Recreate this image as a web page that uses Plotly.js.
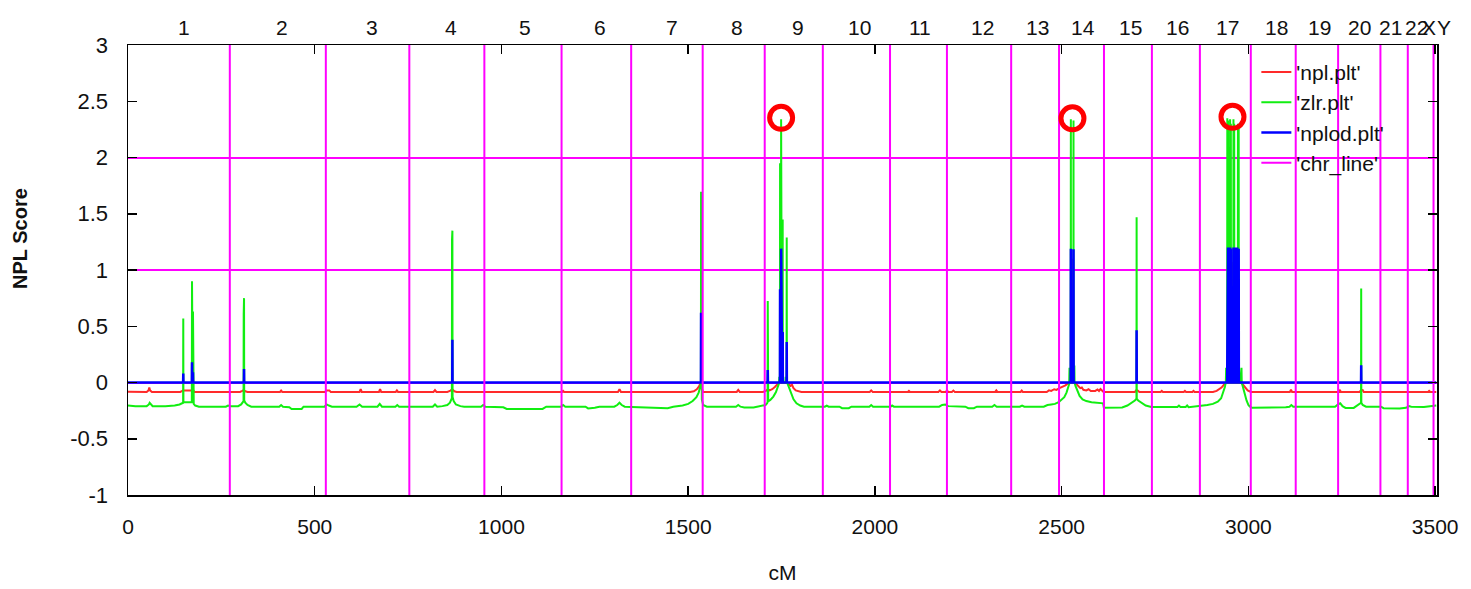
<!DOCTYPE html>
<html>
<head>
<meta charset="utf-8">
<script src="https://cdn.plot.ly/plotly-3.0.1.min.js"></script>
<style>html,body{margin:0;padding:0;background:#fff;}#chart{width:1471px;height:589px;}</style>
</head>
<body>
<div id="chart"></div>
<script>
// ---------- DATA ----------
// npl.plt (red): [cM, NPL]
const nplPts = [[0,-0.082],[50,-0.084],[55,-0.07],[57,-0.045],[59,-0.07],[64,-0.084],[140,-0.084],[146,-0.075],[148,-0.07],[170,-0.07],[175,-0.07],[178,-0.084],[300,-0.084],[306,-0.075],[310,-0.068],[314,-0.078],[320,-0.084],[407,-0.084],[410,-0.072],[413,-0.084],[528,-0.084],[531,-0.07],[535,-0.068],[539,-0.07],[543,-0.084],[620,-0.084],[623,-0.058],[626,-0.084],[672,-0.084],[675,-0.058],[678,-0.084],[717,-0.084],[720,-0.07],[723,-0.084],[818,-0.084],[822,-0.068],[826,-0.084],[855,-0.084],[862,-0.075],[868,-0.06],[874,-0.078],[880,-0.084],[1162,-0.084],[1165,-0.074],[1168,-0.084],[1312,-0.084],[1316,-0.06],[1320,-0.084],[1505,-0.084],[1515,-0.078],[1523,-0.06],[1529,-0.035],[1533,-0.005],[1535,-0.005],[1537,-0.06],[1540,-0.084],[1630,-0.084],[1634,-0.066],[1638,-0.084],[1700,-0.084],[1708,-0.075],[1713,-0.06],[1718,-0.07],[1725,-0.06],[1732,-0.04],[1738,-0.02],[1742,-0.005],[1748.4,0],[1748.8,0.82],[1749.2,0],[1766,-0.005],[1770,-0.015],[1774,-0.03],[1778,-0.02],[1782,-0.05],[1788,-0.07],[1796,-0.08],[1803,-0.084],[1986,-0.084],[1990,-0.07],[1994,-0.084],[2088,-0.084],[2091,-0.075],[2094,-0.084],[2170,-0.084],[2174,-0.07],[2178,-0.084],[2190,-0.084],[2193,-0.07],[2196,-0.084],[2206,-0.084],[2210,-0.072],[2214,-0.084],[2322,-0.084],[2325,-0.07],[2328,-0.084],[2390,-0.084],[2393,-0.072],[2396,-0.084],[2460,-0.084],[2466,-0.07],[2472,-0.075],[2480,-0.06],[2486,-0.066],[2494,-0.05],[2502,-0.04],[2510,-0.025],[2516,-0.01],[2520,0],[2528,0],[2528.4,1.1],[2528.8,0],[2538,-0.01],[2544,-0.03],[2550,-0.05],[2554,-0.045],[2558,-0.065],[2566,-0.07],[2572,-0.06],[2578,-0.075],[2590,-0.075],[2596,-0.062],[2600,-0.075],[2604,-0.058],[2608,-0.075],[2612,-0.084],[2696,-0.084],[2700,-0.068],[2704,-0.072],[2708,-0.084],[2765,-0.084],[2768,-0.074],[2771,-0.084],[2827,-0.084],[2830,-0.074],[2833,-0.084],[2850,-0.084],[2853,-0.074],[2856,-0.084],[2905,-0.084],[2915,-0.075],[2922,-0.06],[2928,-0.045],[2933,-0.025],[2937,-0.005],[2948.9,0],[2949.3,0.98],[2949.7,0],[2957.1,0],[2957.5,1.07],[2957.9,0],[2982,-0.005],[2986,-0.02],[2992,-0.05],[2998,-0.07],[3004,-0.08],[3008,-0.084],[3111,-0.084],[3114,-0.065],[3117,-0.084],[3242,-0.084],[3245,-0.07],[3248,-0.084],[3298,-0.084],[3301,-0.07],[3306,-0.068],[3309,-0.084],[3481,-0.084],[3484,-0.074],[3487,-0.084],[3503,-0.084]];

// zlr.plt (green): [cM, score]
const zlrPts = [[0,-0.205],[20,-0.21],[50,-0.21],[56,-0.195],[58,-0.18],[60,-0.19],[66,-0.21],[100,-0.21],[125,-0.205],[138,-0.195],[145,-0.185],[147.6,-0.18],[148,0.57],[148.4,-0.175],[160,-0.175],[170.9,-0.175],[171.4,0.90],[171.9,-0.17],[173.5,-0.17],[174,0.63],[174.5,-0.17],[176,-0.19],[180,-0.205],[190,-0.215],[262,-0.215],[268,-0.205],[274,-0.21],[295,-0.21],[303,-0.195],[307,-0.175],[309.4,-0.165],[309.8,0.61],[310.2,-0.16],[310.7,0.75],[311.2,-0.16],[314,-0.18],[320,-0.2],[330,-0.215],[405,-0.215],[410,-0.2],[415,-0.215],[432,-0.22],[438,-0.235],[465,-0.235],[470,-0.215],[526,-0.215],[532,-0.195],[538,-0.205],[546,-0.215],[612,-0.215],[620,-0.195],[627,-0.215],[668,-0.215],[674,-0.19],[680,-0.215],[716,-0.215],[721,-0.2],[726,-0.215],[816,-0.215],[822,-0.195],[828,-0.215],[842,-0.21],[855,-0.2],[862,-0.18],[866,-0.155],[867.2,-0.14],[867.6,1.27],[868.0,-0.13],[868.6,1.35],[869.1,-0.13],[872,-0.165],[878,-0.195],[890,-0.21],[900,-0.215],[945,-0.215],[951,-0.2],[957,-0.215],[1005,-0.22],[1014,-0.235],[1110,-0.235],[1120,-0.215],[1159,-0.215],[1165,-0.2],[1171,-0.215],[1225,-0.215],[1232,-0.23],[1250,-0.225],[1262,-0.215],[1302,-0.215],[1310,-0.2],[1316,-0.18],[1322,-0.2],[1330,-0.215],[1360,-0.22],[1420,-0.228],[1445,-0.228],[1460,-0.215],[1485,-0.205],[1500,-0.19],[1512,-0.165],[1522,-0.13],[1528,-0.09],[1532,-0.04],[1534,-0.01],[1534.5,1.695],[1535,-0.01],[1536.5,-0.15],[1540,-0.2],[1550,-0.215],[1628,-0.215],[1634,-0.2],[1640,-0.215],[1650,-0.222],[1675,-0.222],[1685,-0.215],[1700,-0.21],[1707,-0.2],[1711,-0.185],[1712.6,-0.175],[1713,0.725],[1713.4,-0.17],[1714.2,-0.17],[1714.6,0.316],[1715,-0.165],[1720,-0.155],[1728,-0.125],[1735,-0.085],[1740,-0.04],[1743,-0.01],[1744,0.05],[1744.5,0],[1745.6,0],[1746,1.95],[1746.4,0],[1748.4,0],[1748.8,2.34],[1749.2,0],[1750.1,0],[1750.5,1.48],[1750.9,0],[1752.6,0],[1753,1.45],[1753.4,0],[1760,0],[1761,0.05],[1762,0],[1763.4,0],[1763.8,1.29],[1764.2,0],[1766,-0.01],[1770,-0.05],[1775,-0.1],[1782,-0.15],[1790,-0.185],[1800,-0.205],[1810,-0.215],[1866,-0.215],[1871,-0.205],[1876,-0.215],[1905,-0.215],[1912,-0.228],[1930,-0.228],[1937,-0.215],[1985,-0.215],[1990,-0.2],[1995,-0.215],[2042,-0.215],[2046,-0.205],[2051,-0.215],[2172,-0.215],[2180,-0.2],[2188,-0.195],[2196,-0.21],[2242,-0.215],[2250,-0.228],[2265,-0.228],[2273,-0.215],[2314,-0.215],[2320,-0.2],[2326,-0.215],[2388,-0.215],[2394,-0.205],[2400,-0.215],[2452,-0.215],[2462,-0.2],[2472,-0.195],[2482,-0.19],[2492,-0.175],[2500,-0.155],[2507,-0.13],[2513,-0.09],[2517,-0.05],[2520,-0.015],[2521,0.13],[2521.6,0],[2524.2,0],[2524.6,2.34],[2525,0],[2531.3,0],[2531.7,2.33],[2532.1,0],[2533.5,0],[2534,0.15],[2534.6,0],[2537,-0.03],[2542,-0.08],[2548,-0.12],[2556,-0.15],[2566,-0.165],[2580,-0.175],[2595,-0.18],[2611,-0.185],[2613,-0.225],[2630,-0.225],[2662,-0.222],[2676,-0.205],[2688,-0.18],[2696,-0.16],[2700.3,-0.145],[2700.7,1.47],[2701.1,-0.145],[2705,-0.16],[2713,-0.18],[2725,-0.205],[2740,-0.218],[2810,-0.218],[2814,-0.205],[2818,-0.218],[2832,-0.218],[2836,-0.205],[2840,-0.22],[2855,-0.215],[2872,-0.21],[2890,-0.2],[2905,-0.19],[2918,-0.17],[2927,-0.14],[2933,-0.09],[2937,-0.04],[2939.5,0],[2940.5,0.13],[2941.2,0],[2943.1,0],[2943.5,2.35],[2943.9,0],[2945.1,0],[2945.5,2.33],[2945.9,0],[2950.6,0],[2951,2.34],[2951.4,0],[2952.6,0],[2953,2.3],[2953.4,0],[2959.6,0],[2960,2.34],[2960.4,0],[2961.6,0],[2962,2.3],[2962.4,0],[2971.6,0],[2972,2.3],[2972.4,0],[2973.6,0],[2974,2.26],[2974.4,0],[2978,0],[2981.5,0.13],[2982.2,0],[2985,-0.04],[2990,-0.11],[2995,-0.16],[3000,-0.2],[3004,-0.215],[3010,-0.225],[3060,-0.225],[3100,-0.22],[3110,-0.215],[3115,-0.2],[3120,-0.215],[3180,-0.215],[3232,-0.215],[3240,-0.195],[3246,-0.185],[3252,-0.21],[3260,-0.226],[3282,-0.226],[3290,-0.21],[3297,-0.19],[3301.6,-0.18],[3302,0.835],[3302.4,-0.18],[3306,-0.2],[3315,-0.215],[3355,-0.215],[3362,-0.228],[3405,-0.23],[3422,-0.225],[3430,-0.21],[3436,-0.215],[3470,-0.218],[3495,-0.21],[3503,-0.205]];

// nplod.plt (blue): [cM, score]
const nplodPts = [[0,0],[147.6,0],[148,0.08],[148.4,0],[171,0],[171.4,0.18],[171.8,0],[173.6,0],[174,0.09],[174.4,0],[310.3,0],[310.7,0.12],[311.1,0],[868.2,0],[868.6,0.38],[869,0],[1534.1,0],[1534.5,0.62],[1534.9,0],[1712.6,0],[1713,0.11],[1713.4,0],[1745.6,0],[1746,0.83],[1746.4,0],[1748.4,0],[1748.8,1.19],[1749.2,0],[1750.1,0],[1750.5,0.48],[1750.9,0],[1752.6,0],[1753,0.45],[1753.4,0],[1763.4,0],[1763.8,0.36],[1764.2,0],[2524.2,0],[2524.6,1.19],[2525,0],[2531.3,0],[2531.7,1.185],[2532.1,0],[2700.3,0],[2700.7,0.465],[2701.1,0],[2943.1,0],[2943.5,1.2],[2943.9,0],[2945.1,0],[2945.5,1.2],[2945.9,0],[2947.6,0],[2948,1.2],[2948.4,0],[2950.6,0],[2951,1.2],[2951.4,0],[2952.6,0],[2953,1.19],[2953.4,0],[2959.6,0],[2960,1.2],[2960.4,0],[2962.6,0],[2963,1.2],[2963.4,0],[2966.1,0],[2966.5,1.2],[2966.9,0],[2969.6,0],[2970,1.2],[2970.4,0],[2973.6,0],[2974,1.19],[2974.4,0],[3301.6,0],[3302,0.153],[3302.4,0],[3503,0]];

// chromosome boundaries (cM) for 'chr_line'
const chrBounds = [272.6,529.7,753.3,954.2,1160.9,1347.3,1538.8,1704.9,1860.5,2040.4,2192.8,2364.8,2493.0,2613.3,2741.6,2870.1,3006.4,3126.7,3240.2,3353.5,3426.8,3495.7];
const chrLineSpan = [-1, 3];

// chromosome labels on the top axis (cM positions)
const chrLabels = ['1','2','3','4','5','6','7','8','9','10','11','12','13','14','15','16','17','18','19','20','21','22','X','Y'];
const chrLabelPos = [149,412,653,864,1063,1264,1457,1631,1793,1960,2120,2287,2436,2558,2684,2810,2943,3074,3190,3297,3381,3450,3484,3524];

// highlighted peaks (red circles)
const peakX = [1748.8, 2528.9, 2957.4];
const peakY = [2.353, 2.348, 2.362];

// axis ticks
const xRange = [0, 3505];
const yRange = [-1, 3];
const xTickVals = [0,500,1000,1500,2000,2500,3000,3500];
const yTickVals = [-1,-0.5,0,0.5,1,1.5,2,2.5,3];
const yTickText = ['-1','-0.5','0','0.5','1','1.5','2','2.5','3'];
const refLevels = [0,1,2];

// ---------- BUILD ----------
const FONT = 'Liberation Sans, Arial, sans-serif';
const xs = p => p.map(d => d[0]);
const ys = p => p.map(d => d[1]);

const chrX = [], chrY = [];
chrBounds.forEach(b => { chrX.push(b, b, null); chrY.push(chrLineSpan[0], chrLineSpan[1], null); });

const traces = [
  {x: xs(nplPts), y: ys(nplPts), type: 'scatter', mode: 'lines', name: "'npl.plt'",
   line: {color: '#ff2a2a', width: 2}},
  {x: xs(zlrPts), y: ys(zlrPts), type: 'scatter', mode: 'lines', name: "'zlr.plt'",
   line: {color: '#11ee11', width: 2}},
  {x: xs(nplodPts), y: ys(nplodPts), type: 'scatter', mode: 'lines', name: "'nplod.plt'",
   line: {color: '#0000ff', width: 2.5}},
  {x: chrX, y: chrY, type: 'scatter', mode: 'lines', name: "'chr_line'",
   line: {color: '#ff00ff', width: 2}, connectgaps: false},
  {x: peakX, y: peakY, type: 'scatter', mode: 'markers', showlegend: false, yaxis: 'y2',
   marker: {symbol: 'circle-open', size: 23, color: '#ff0000', line: {width: 5, color: '#ff0000'}}}
];

// chromosome labels placed along the x scale (paper fraction of the x range, so X/Y beyond the end still show)
const annotations = chrLabels.map((t, i) => ({
  text: t, x: (chrLabelPos[i] - xRange[0]) / (xRange[1] - xRange[0]), xref: 'paper', y: 1, yref: 'paper',
  xanchor: 'center', yanchor: 'middle', yshift: 18, showarrow: false,
  font: {family: FONT, size: 21, color: '#111'}
}));
annotations.push({
  text: '<b>NPL Score</b>', x: 0, xref: 'paper', xanchor: 'center', xshift: -108,
  y: 0.569, yref: 'paper', yanchor: 'middle', textangle: -90, showarrow: false,
  font: {family: FONT, size: 20, color: '#111'}
});

const layout = {
  width: 1471, height: 589,
  margin: {l: 128, r: 34, t: 45, b: 94},
  paper_bgcolor: '#ffffff', plot_bgcolor: '#ffffff',
  showlegend: true,
  legend: {x: 0.862, xanchor: 'left', y: 0.985, yanchor: 'top', bgcolor: 'rgba(0,0,0,0)',
           font: {family: FONT, size: 21, color: '#111'}, tracegroupgap: 0},
  xaxis: {range: xRange, tickvals: xTickVals, ticks: 'inside', ticklen: 9, tickwidth: 1.5,
          tickcolor: '#000', showline: true, linecolor: '#000', linewidth: 1.5, mirror: 'all',
          showgrid: false, zeroline: false, ticklabelstandoff: 12,
          tickfont: {family: FONT, size: 21, color: '#111'},
          title: {text: 'cM', font: {family: FONT, size: 21, color: '#111'}, standoff: 28}},
  yaxis: {range: yRange, tickvals: yTickVals, ticktext: yTickText, ticks: 'inside', ticklen: 9,
          tickwidth: 1.5, tickcolor: '#000', showline: true, linecolor: '#000', linewidth: 1.5,
          mirror: 'all', showgrid: false, zeroline: false, ticklabelstandoff: 14,
          tickfont: {family: FONT, size: 22, color: '#111'}},
  yaxis2: {overlaying: 'y', range: yRange, tickvals: refLevels, showticklabels: false, ticks: '',
           showgrid: true, gridcolor: '#ff00ff', gridwidth: 2, showline: false, zeroline: false},
  annotations: annotations
};

Plotly.newPlot('chart', traces, layout, {displayModeBar: false, staticPlot: true});
</script>
</body>
</html>
